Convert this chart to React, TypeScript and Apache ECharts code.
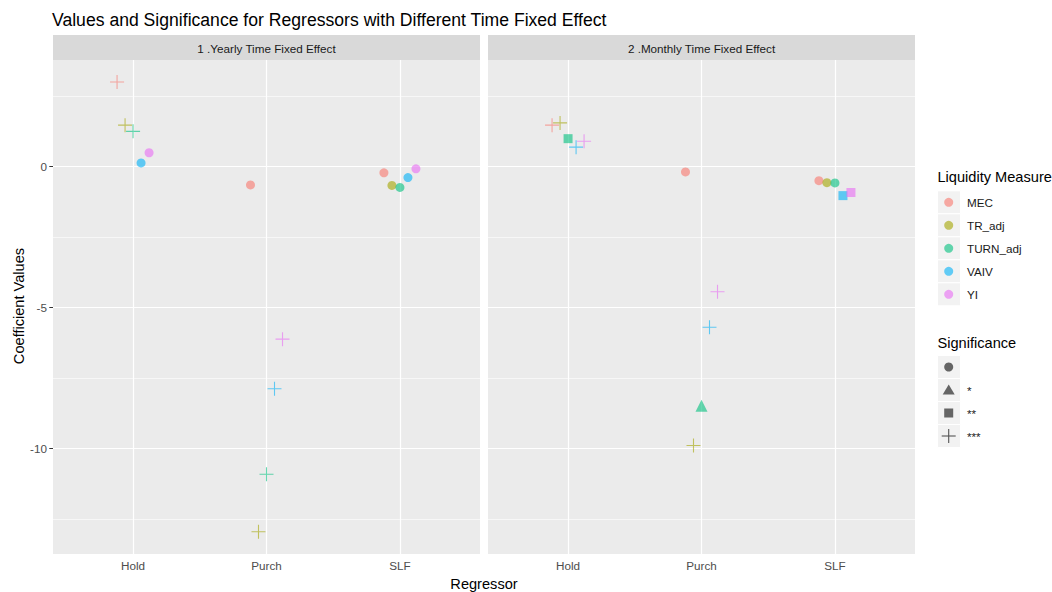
import React, { useEffect, useRef } from "react";
import * as echarts from "echarts";

const titleText = "Values and Significance for Regressors with Different Time Fixed Effect";
const facets = ["1 .Yearly Time Fixed Effect", "2 .Monthly Time Fixed Effect"];
const regressors = ["Hold", "Purch", "SLF"];
const measures = ["MEC", "TR_adj", "TURN_adj", "VAIV", "YI"];
const measureColors = ["#F8766D", "#A3A500", "#00BF7D", "#00B0F6", "#E76BF3"];
const sigLevels = ["", "*", "**", "***"];

// values per measure (rows) for Hold, Purch, SLF (columns)
const yearlyValues = [
  [3.0, -0.65, -0.22],
  [1.47, -12.95, -0.67],
  [1.25, -10.91, -0.74],
  [0.13, -7.88, -0.39],
  [0.49, -6.12, -0.08],
];
const yearlySig = [
  ["***", "", ""],
  ["***", "***", ""],
  ["***", "***", ""],
  ["", "***", ""],
  ["", "***", ""],
];
const monthlyValues = [
  [1.47, -0.19, -0.5],
  [1.55, -9.89, -0.57],
  [0.99, -8.48, -0.58],
  [0.69, -5.7, -1.03],
  [0.9, -4.44, -0.92],
];
const monthlySig = [
  ["***", "", ""],
  ["***", "***", ""],
  ["**", "*", ""],
  ["***", "***", "**"],
  ["***", "***", "**"],
];
const yTicks = [-10, -5, 0];
const yMinorGrid = [2.5, -2.5, -7.5, -12.5];

const CROSS = "path://M0,6.45 L14,6.45 L14,7.55 L0,7.55 Z M6.45,0 L7.55,0 L7.55,14 L6.45,14 Z";
const symFor: Record<string, string> = { "": "circle", "*": "triangle", "**": "rect", "***": CROSS };
const sizeFor: Record<string, number> = { "": 9, "*": 12, "**": 9, "***": 14 };

const FONT = "'Liberation Sans', Arial, sans-serif";

export default function App() {
  const ref = useRef<HTMLDivElement>(null);
  useEffect(() => {
    if (!ref.current) return;
    const chart = echarts.init(ref.current, undefined, { renderer: "svg" });
    const gridLefts = [53, 488];
    const gridW = 427;
    const gridTop = 60;
    const gridH = 494;
    const yMin = -13.74;
    const yMax = 3.78;

    const grids = gridLefts.map((l) => ({
      left: l,
      top: gridTop,
      width: gridW,
      height: gridH,
      show: true,
      backgroundColor: "#EBEBEB",
      borderWidth: 0,
      z: 0,
    }));
    const xAxes = gridLefts.map((_, i) => ({
      type: "value",
      gridIndex: i,
      min: 0.4,
      max: 3.6,
      axisLine: { show: false },
      splitLine: { show: false },
      axisTick: { show: true, customValues: [1, 2, 3], length: 3.7, lineStyle: { color: "#333333" } },
      axisLabel: {
        customValues: [1, 2, 3],
        formatter: (v: number) => regressors[Math.round(v) - 1] || "",
        color: "#4D4D4D",
        fontSize: 11.7,
        fontFamily: FONT,
        margin: 5,
      },
    }));
    const yAxes = gridLefts.map((_, i) => ({
      type: "value",
      gridIndex: i,
      min: yMin,
      max: yMax,
      axisLine: { show: false },
      splitLine: { show: false },
      axisTick: { show: i === 0, customValues: yTicks, length: 3.7, lineStyle: { color: "#333333" } },
      axisLabel: {
        show: i === 0,
        customValues: yTicks,
        color: "#4D4D4D",
        fontSize: 11.7,
        fontFamily: FONT,
        margin: 6,
      },
    }));

    const series: any[] = [];
    [0, 1].forEach((fi) => {
      series.push({
        type: "scatter",
        xAxisIndex: fi,
        yAxisIndex: fi,
        data: [],
        z: 1,
        silent: true,
        markLine: {
          silent: true,
          z: 1,
          symbol: ["none", "none"],
          label: { show: false },
          animation: false,
          data: [
            ...yMinorGrid.map((v) => ({ yAxis: v, lineStyle: { color: "#FFFFFF", width: 0.6, type: "solid" } })),
            ...yTicks.map((v) => ({ yAxis: v, lineStyle: { color: "#FFFFFF", width: 1.2, type: "solid" } })),
            ...[1, 2, 3].map((v) => ({ xAxis: v, lineStyle: { color: "#FFFFFF", width: 1.2, type: "solid" } })),
          ],
        },
      });
      const vals = fi === 0 ? yearlyValues : monthlyValues;
      const sigs = fi === 0 ? yearlySig : monthlySig;
      measures.forEach((m, mi) => {
        series.push({
          type: "scatter",
          name: m,
          xAxisIndex: fi,
          yAxisIndex: fi,
          z: 10,
          itemStyle: { color: measureColors[mi], opacity: 0.6 },
          data: regressors.map((r, ri) => ({
            name: r,
            value: [ri + 1 + (mi - 2) * 0.06, vals[mi][ri]],
            symbol: symFor[sigs[mi][ri]],
            symbolSize: sizeFor[sigs[mi][ri]],
          })),
        });
      });
    });

    const graphics: any[] = [];
    graphics.push({
      type: "text",
      x: 52,
      y: 20,
      style: { text: titleText, font: `17.6px ${FONT}`, fill: "#000000", verticalAlign: "middle" },
    });
    facets.forEach((f, i) => {
      graphics.push({
        type: "rect",
        shape: { x: gridLefts[i], y: 35, width: gridW, height: 25 },
        style: { fill: "#D9D9D9" },
      });
      graphics.push({
        type: "text",
        x: gridLefts[i] + gridW / 2,
        y: 48,
        style: { text: f, font: `11.7px ${FONT}`, fill: "#1A1A1A", align: "center", verticalAlign: "middle" },
      });
    });
    graphics.push({
      type: "text",
      x: 18.5,
      y: 306,
      rotation: Math.PI / 2,
      style: { text: "Coefficient Values", font: `14.6px ${FONT}`, fill: "#000000", align: "center", verticalAlign: "middle" },
    });
    graphics.push({
      type: "text",
      x: 484,
      y: 584,
      style: { text: "Regressor", font: `14.6px ${FONT}`, fill: "#000000", align: "center", verticalAlign: "middle" },
    });

    // Legend: Liquidity Measure
    const lx = 937.5;
    graphics.push({
      type: "text",
      x: lx,
      y: 177,
      style: { text: "Liquidity Measure", font: `14.6px ${FONT}`, fill: "#000000", verticalAlign: "middle" },
    });
    measures.forEach((m, i) => {
      const cy = 202.3 + i * 23;
      graphics.push({
        type: "rect",
        shape: { x: lx, y: cy - 11.5, width: 23, height: 23 },
        style: { fill: "#F2F2F2", stroke: "#FFFFFF", lineWidth: 1 },
      });
      graphics.push({
        type: "circle",
        shape: { cx: lx + 11.2, cy, r: 4.5 },
        style: { fill: measureColors[i], opacity: 0.6 },
      });
      graphics.push({
        type: "text",
        x: lx + 29.5,
        y: cy,
        style: { text: m, font: `11.7px ${FONT}`, fill: "#1A1A1A", verticalAlign: "middle" },
      });
    });
    // Legend: Significance
    graphics.push({
      type: "text",
      x: lx,
      y: 343,
      style: { text: "Significance", font: `14.6px ${FONT}`, fill: "#000000", verticalAlign: "middle" },
    });
    const keyGrey = "#555555";
    sigLevels.forEach((s, i) => {
      const cy = 367 + i * 23;
      const cx = lx + 11.2;
      graphics.push({
        type: "rect",
        shape: { x: lx, y: cy - 11.5, width: 23, height: 23 },
        style: { fill: "#F2F2F2", stroke: "#FFFFFF", lineWidth: 1 },
      });
      if (s === "") {
        graphics.push({ type: "circle", shape: { cx, cy, r: 4.5 }, style: { fill: keyGrey, opacity: 0.9 } });
      } else if (s === "*") {
        graphics.push({
          type: "polygon",
          shape: { points: [[cx, cy - 5.5], [cx + 6, cy + 4.5], [cx - 6, cy + 4.5]] },
          style: { fill: keyGrey, opacity: 0.9 },
        });
      } else if (s === "**") {
        graphics.push({ type: "rect", shape: { x: cx - 4.5, y: cy - 4.5, width: 9, height: 9 }, style: { fill: keyGrey, opacity: 0.9 } });
      } else {
        graphics.push({ type: "line", shape: { x1: cx - 7, y1: cy, x2: cx + 7, y2: cy }, style: { stroke: keyGrey, lineWidth: 1.1 } });
        graphics.push({ type: "line", shape: { x1: cx, y1: cy - 7, x2: cx, y2: cy + 7 }, style: { stroke: keyGrey, lineWidth: 1.1 } });
      }
      graphics.push({
        type: "text",
        x: lx + 29.5,
        y: cy,
        style: { text: s, font: `11.7px ${FONT}`, fill: "#1A1A1A", verticalAlign: "middle" },
      });
    });

    chart.setOption({
      animation: false,
      backgroundColor: "#FFFFFF",
      textStyle: { fontFamily: FONT },
      grid: grids,
      xAxis: xAxes,
      yAxis: yAxes,
      series,
      graphic: graphics,
    });
    return () => chart.dispose();
  }, []);
  return <div ref={ref} style={{ position: "absolute", left: 0, top: 0, width: 1052, height: 592 }} />;
}
